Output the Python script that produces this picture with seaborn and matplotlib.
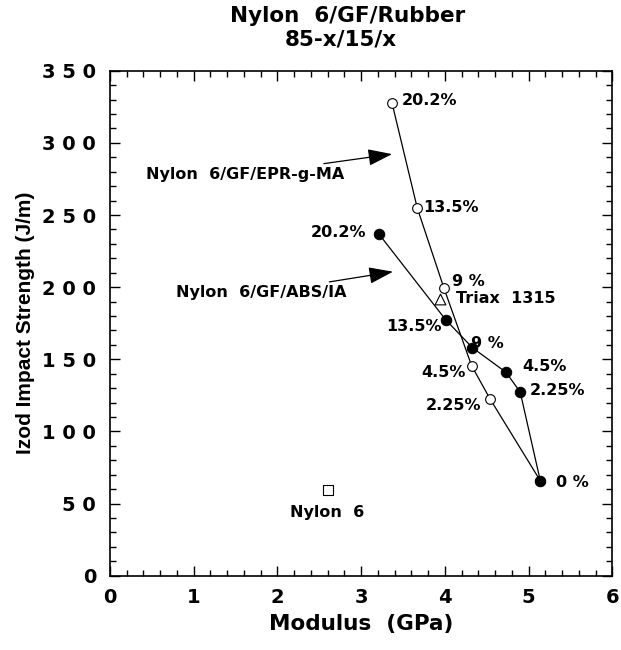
import matplotlib
matplotlib.use("Agg")
import matplotlib.pyplot as plt
from matplotlib.ticker import MultipleLocator, FixedLocator
import seaborn as sns
import pandas as pd

# ---- data ----
rubber_labels = ["20.2%", "13.5%", "9 %", "4.5%", "2.25%", "0 %"]
epr_modulus = [3.37, 3.67, 3.99, 4.32, 4.54, 5.14]
epr_izod = [327.4, 255.0, 199.2, 145.5, 122.5, 65.8]
abs_modulus = [3.21, 4.01, 4.33, 4.73, 4.90, 5.14]
abs_izod = [237.0, 177.4, 158.0, 141.0, 127.3, 65.8]
triax_modulus = [3.94]
triax_izod = [191.8]
nylon6_modulus = [2.60]
nylon6_izod = [59.4]
x_ticks = [0, 1, 2, 3, 4, 5, 6]
y_ticks = [0, 50, 100, 150, 200, 250, 300, 350]
y_tick_labels = ["0", "5 0", "1 0 0", "1 5 0", "2 0 0", "2 5 0", "3 0 0", "3 5 0"]

sns.set_style("white")
plt.rcParams['font.family'] = ['DejaVu Sans']
plt.rcParams.update({"text.color": "black", "axes.labelcolor": "black",
                     "xtick.color": "black", "ytick.color": "black"})

fig = plt.figure(figsize=(6.21, 6.5), dpi=100)
ax = fig.add_axes([0.177, 0.1143, 0.809, 0.7769])

epr_df = pd.DataFrame({"modulus": epr_modulus, "izod": epr_izod})
abs_df = pd.DataFrame({"modulus": abs_modulus, "izod": abs_izod})

sns.lineplot(data=epr_df, x="modulus", y="izod", sort=False, estimator=None,
             color="black", linewidth=0.9, marker="o", markersize=7,
             markerfacecolor="white", markeredgecolor="black", markeredgewidth=0.8, ax=ax, zorder=3)
sns.lineplot(data=abs_df, x="modulus", y="izod", sort=False, estimator=None,
             color="black", linewidth=0.9, marker="o", markersize=7.5,
             markerfacecolor="black", markeredgecolor="black", ax=ax, zorder=4)
sns.scatterplot(x=triax_modulus, y=triax_izod, marker="^", s=60, facecolor="white",
                edgecolor="black", linewidth=0.8, ax=ax, zorder=5)
sns.scatterplot(x=nylon6_modulus, y=nylon6_izod, marker="s", s=50, facecolor="white",
                edgecolor="black", linewidth=0.8, ax=ax, zorder=5)

ax.set_xlim(0, 6)
ax.set_ylim(0, 350)
ax.xaxis.set_major_locator(FixedLocator(x_ticks))
ax.xaxis.set_minor_locator(MultipleLocator(0.2))
ax.yaxis.set_major_locator(FixedLocator(y_ticks))
ax.yaxis.set_minor_locator(MultipleLocator(10))
ax.set_yticklabels(y_tick_labels)
ax.tick_params(which="both", direction="in", top=True, right=True, bottom=True, left=True,
               color="black", labelcolor="black", width=1.0)
ax.tick_params(which="major", length=7, labelsize=14, pad=9)
ax.tick_params(which="minor", length=4)
ax.tick_params(axis="y", which="major", pad=10)
for lab in ax.get_xticklabels() + ax.get_yticklabels():
    lab.set_fontweight("bold")
for s in ax.spines.values():
    s.set_color("black")
    s.set_linewidth(1.2)

ax.set_xlabel("Modulus  (GPa)", fontsize=15.5, fontweight="bold", labelpad=5, color="black")
ax.set_ylabel("Izod Impact Strength (J/m)", fontsize=15, fontweight="bold", labelpad=5,
              color="black", family=["Liberation Sans", "DejaVu Sans"])
fig.text(0.559, 0.976, "Nylon  6/GF/Rubber", ha="center", va="center",
         fontsize=15.5, fontweight="bold", color="black")
fig.text(0.549, 0.939, "85-x/15/x", ha="center", va="center",
         fontsize=15.5, fontweight="bold", color="black")

fs = 11.5
# EPR labels
epr_offsets = [(7, 2, "left"), (4, 0, "left"), (6, 5, "left"), (-4, -5, "right"), (-6, -5, "right")]
for lab, x, y, (dx, dy, ha) in zip(rubber_labels[:5], epr_modulus[:5], epr_izod[:5], epr_offsets):
    ax.annotate(lab, (x, y), xytext=(dx, dy), textcoords="offset points", ha=ha, va="center",
                fontsize=fs, fontweight="bold", color="black")
abs_offsets = [(-9, 1, "right"), (-3, -5, "right"), (-1, 3, "left"), (12, 4, "left"), (7, 1, "left"), (11, -1, "left")]
for lab, x, y, (dx, dy, ha) in zip(rubber_labels, abs_modulus, abs_izod, abs_offsets):
    ax.annotate(lab, (x, y), xytext=(dx, dy), textcoords="offset points", ha=ha, va="center",
                fontsize=fs, fontweight="bold", color="black")
ax.annotate("Triax  1315", (triax_modulus[0], triax_izod[0]), xytext=(12, 0), textcoords="offset points",
            ha="left", va="center", fontsize=fs, fontweight="bold", color="black")
ax.annotate("Nylon  6", (nylon6_modulus[0], nylon6_izod[0]), xytext=(0, -16), textcoords="offset points",
            ha="center", va="center", fontsize=fs, fontweight="bold", color="black")

ax.annotate("Nylon  6/GF/EPR-g-MA", xy=(3.37, 292.2), xytext=(2.80, 278),
            ha="right", va="center", fontsize=fs, fontweight="bold", color="black",
            arrowprops=dict(arrowstyle="-|>,head_length=1.3,head_width=0.45", color="black", lw=0.9,
                            shrinkA=1, shrinkB=0))
ax.annotate("Nylon  6/GF/ABS/IA", xy=(3.38, 210.7), xytext=(2.82, 196),
            ha="right", va="center", fontsize=fs, fontweight="bold", color="black",
            arrowprops=dict(arrowstyle="-|>,head_length=1.3,head_width=0.45", color="black", lw=0.9,
                            shrinkA=1, shrinkB=0))

fig.savefig("out.png", dpi=100, facecolor="white")
